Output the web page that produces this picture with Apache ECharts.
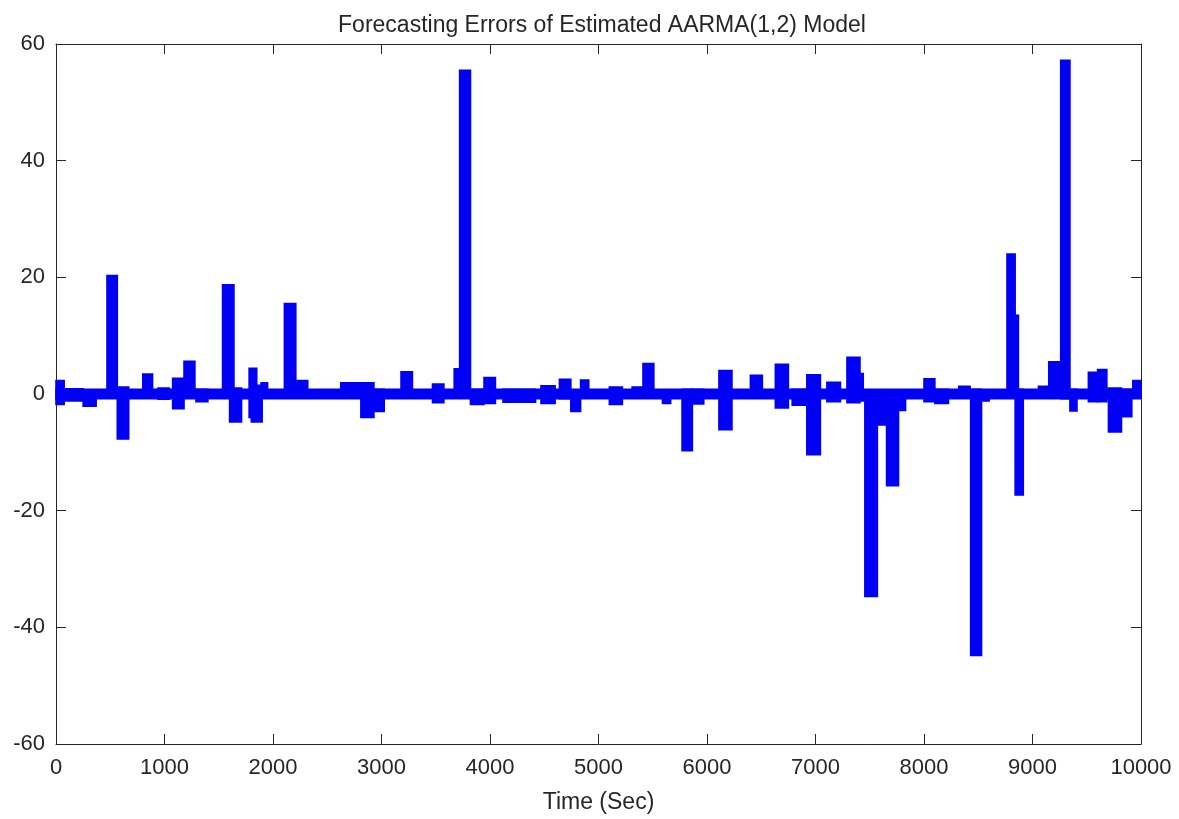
<!DOCTYPE html>
<html>
<head>
<meta charset="utf-8">
<title>Forecasting Errors of Estimated AARMA(1,2) Model</title>
<script src="https://cdn.jsdelivr.net/npm/echarts@6/dist/echarts.min.js"></script>
<style>
  html, body { margin: 0; padding: 0; background: #fff; }
  #chart { width: 1179px; height: 819px; }
</style>
</head>
<body>
<div id="chart"></div>
<script>
// tick labels
var xTicks = [0, 1000, 2000, 3000, 4000, 5000, 6000, 7000, 8000, 9000, 10000];
var yTicks = [-60, -40, -20, 0, 20, 40, 60];

// the noise band that runs along zero for the whole record
var bandStart = [0];
var bandEnd = [10000];
var bandLow = [-0.8];
var bandHigh = [0.8];

// error bursts: time span (sec) and min / max error inside it
var burstStart = [0, 75, 250, 470, 565, 800, 940, 1075, 1180, 1290,
  1535, 1600, 1780, 1800, 1890, 2105, 2210, 2625, 2810, 2930,
  3180, 3470, 3670, 3720, 3820, 3945, 4120, 4470, 4640, 4745,
  4835, 5100, 5310, 5410, 5590, 5770, 5865, 6110, 6400, 6630,
  6785, 6920, 7105, 7290, 7410, 7455, 7570, 7655, 7765, 8000,
  8100, 8320, 8430, 8530, 8765, 8845, 8840, 9055, 9150, 9260,
  9345, 9515, 9600, 9700, 9820, 9925];
var burstEnd = [75, 250, 370, 565, 670, 890, 1045, 1180, 1280, 1400,
  1640, 1710, 1850, 1900, 1950, 2210, 2320, 2810, 2930, 3025,
  3285, 3575, 3730, 3820, 3945, 4050, 4420, 4600, 4745, 4835,
  4910, 5220, 5420, 5510, 5665, 5865, 5970, 6230, 6510, 6750,
  6920, 7045, 7230, 7410, 7440, 7570, 7655, 7765, 7830, 8100,
  8225, 8425, 8530, 8600, 8840, 8870, 8915, 9145, 9270, 9345,
  9410, 9600, 9685, 9820, 9915, 10000];
var burstLow = [-1.8, -1.2, -2.1, -0.5, -7.7, -0.5, -0.9, -2.5, -0.3, -1.3,
  -0.3, -4.8, -4.0, -4.8, -0.5, -0.5, -0.6, -0.5, -4.0, -3.0,
  -0.5, -1.5, -0.7, -0.3, -1.8, -1.6, -1.4, -1.6, -0.8, -3.0,
  -0.6, -1.8, -0.5, -0.5, -1.6, -9.7, -1.7, -6.1, -0.5, -2.4,
  -1.9, -10.4, -1.3, -1.5, -1.2, -34.7, -5.3, -15.7, -2.8, -1.3,
  -1.6, -0.5, -44.8, -1.2, -0.5, -0.5, -17.3, -0.6, -0.6, -0.8,
  -2.9, -1.3, -1.3, -6.5, -3.9, -0.7];
var burstHigh = [2.3, 0.9, 0.3, 20.3, 1.2, 3.4, 1.0, 2.7, 5.6, 0.8,
  18.7, 1.0, 4.4, 1.5, 1.9, 15.5, 2.3, 1.9, 1.9, 0.8,
  3.8, 1.7, 4.3, 55.5, 0.8, 2.8, 0.8, 1.4, 2.5, 0.5,
  2.4, 1.2, 1.2, 5.2, 0.5, 0.8, 0.8, 4.0, 3.2, 5.1,
  0.8, 3.3, 2.0, 6.3, 3.5, 0.5, 0.5, 0.5, 0.5, 2.6,
  0.8, 1.3, 0.8, 0.6, 24.0, 13.5, 0.8, 1.3, 5.5, 57.2,
  0.8, 3.7, 4.2, 1.0, 0.8, 2.3];

var lineBlue = "#0000f5";
var axisColor = "#262626";
var font = "'Liberation Sans', Arial, Helvetica, sans-serif";

function spans(start, end, low, high) {
  var out = [];
  for (var i = 0; i < start.length; i++) {
    out.push([start[i], end[i], low[i], high[i]]);
  }
  return out;
}

// one filled block per span, the stroke stands in for the plotted line width
function renderSpan(params, api) {
  var topLeft = api.coord([api.value(0), api.value(3)]);
  var bottomRight = api.coord([api.value(1), api.value(2)]);
  return {
    type: "rect",
    shape: {
      x: topLeft[0],
      y: topLeft[1],
      width: bottomRight[0] - topLeft[0],
      height: bottomRight[1] - topLeft[1],
    },
    style: { fill: lineBlue, stroke: lineBlue, lineWidth: 1.6 },
  };
}

var chartDom = document.getElementById("chart");
var myChart = echarts.init(chartDom);

var xAxisBase = {
  type: "value",
  min: xTicks[0],
  max: xTicks[xTicks.length - 1],
  interval: 1000,
  axisLine: { show: true, onZero: false, lineStyle: { color: axisColor, width: 1 } },
  axisTick: { show: true, inside: true, length: 10, lineStyle: { color: axisColor } },
  splitLine: { show: false },
};
var yAxisBase = {
  type: "value",
  min: yTicks[0],
  max: yTicks[yTicks.length - 1],
  interval: 20,
  axisLine: { show: true, onZero: false, lineStyle: { color: axisColor, width: 1 } },
  axisTick: { show: true, inside: true, length: 10, lineStyle: { color: axisColor } },
  splitLine: { show: false },
};

var option = {
  animation: false,
  backgroundColor: "#fff",
  title: {
    text: "Forecasting Errors of Estimated AARMA(1,2) Model",
    left: 597,
    textAlign: "center",
    top: 9,
    textStyle: { fontFamily: font, fontSize: 23, fontWeight: "normal", color: axisColor },
  },
  grid: { left: 56, right: 38, top: 44, bottom: 75 },
  xAxis: [
    Object.assign({}, xAxisBase, {
      position: "bottom",
      name: "Time (Sec)",
      nameLocation: "middle",
      nameGap: 47,
      nameTextStyle: { fontFamily: font, fontSize: 23, color: axisColor },
      axisLabel: {
        fontFamily: font,
        fontSize: 22,
        color: axisColor,
        margin: 13,
        formatter: function (v) { return String(v); },
      },
    }),
    Object.assign({}, xAxisBase, { position: "top", axisLabel: { show: false } }),
  ],
  yAxis: [
    Object.assign({}, yAxisBase, {
      position: "left",
      axisLabel: { fontFamily: font, fontSize: 22, color: axisColor, margin: 11 },
    }),
    Object.assign({}, yAxisBase, { position: "right", axisLabel: { show: false } }),
  ],
  series: [
    {
      name: "band",
      type: "custom",
      xAxisIndex: 0,
      yAxisIndex: 0,
      renderItem: renderSpan,
      encode: { x: [0, 1], y: [2, 3] },
      data: spans(bandStart, bandEnd, bandLow, bandHigh),
    },
    {
      name: "bursts",
      type: "custom",
      xAxisIndex: 0,
      yAxisIndex: 0,
      renderItem: renderSpan,
      encode: { x: [0, 1], y: [2, 3] },
      data: spans(burstStart, burstEnd, burstLow, burstHigh),
    },
  ],
};

myChart.setOption(option);
</script>
</body>
</html>
